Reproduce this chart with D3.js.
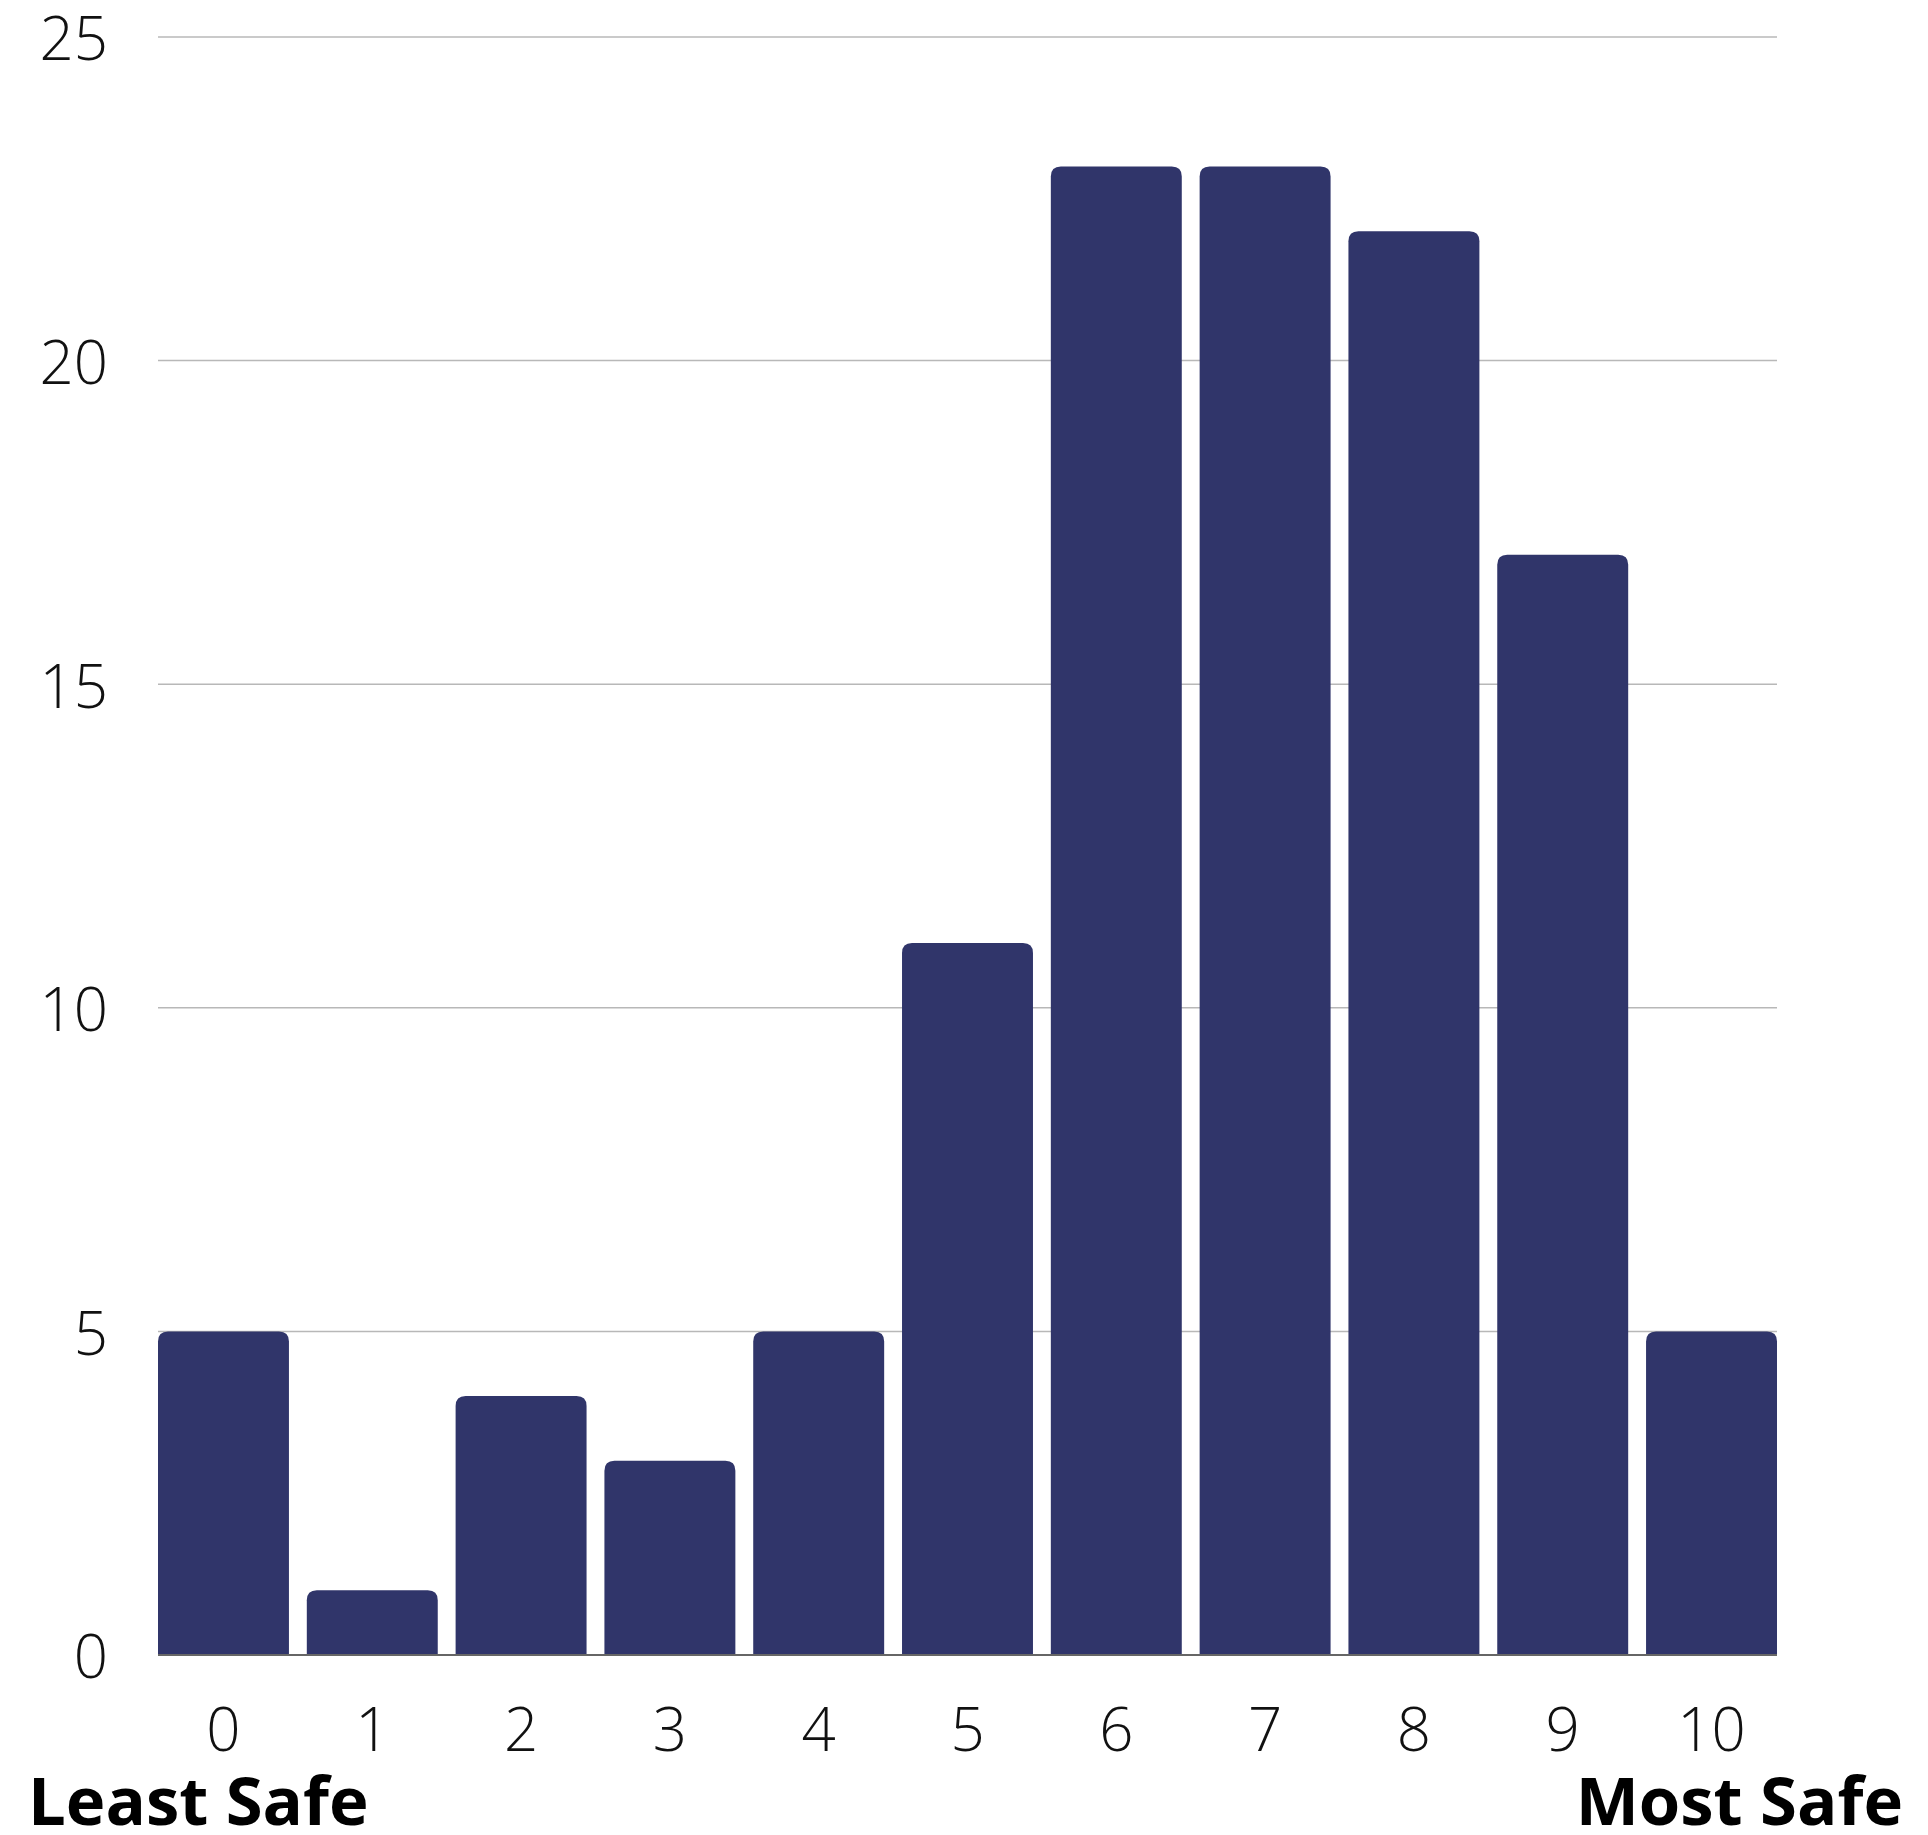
<!DOCTYPE html>
<html>
<head>
<meta charset="utf-8">
<script src="https://cdn.jsdelivr.net/npm/d3@7"></script>
<style>
  html, body { margin: 0; padding: 0; background: #fff; }
  svg { display: block; }
</style>
</head>
<body>
<div id="chart"></div>
<script>
// safety ratings 0..10, number of responses
const categories = ["0", "1", "2", "3", "4", "5", "6", "7", "8", "9", "10"]
const counts = [5, 1, 4, 3, 5, 11, 23, 23, 22, 17, 5]
const yTicks = [0, 5, 10, 15, 20, 25]
const endLabels = ["Least Safe", "Most Safe"]

const W = 1928, H = 1835
const margin = { left: 158, right: 151, top: 37, bottom: 180 }
const width = W - margin.left - margin.right
const height = H - margin.top - margin.bottom

const svg = d3.select("#chart").append("svg")
    .attr("width", W)
    .attr("height", H)

const g = svg.append("g")
    .attr("transform", "translate(" + margin.left + "," + margin.top + ")")

const x = d3.scaleBand()
    .domain(categories)
    .range([0, width])
    .paddingInner(0.12)
    .paddingOuter(0)

const y = d3.scaleLinear()
    .domain([0, 25])
    .range([height, 0])

// gridlines
g.append("g")
    .selectAll("line")
    .data(yTicks.filter(d => d > 0))
    .enter()
    .append("line")
    .attr("x1", 0)
    .attr("x2", width)
    .attr("y1", d => y(d))
    .attr("y2", d => y(d))
    .attr("stroke", "#b8b8b8")
    .attr("stroke-width", 1.5)

// y labels
const yAxisCall = d3.axisLeft(y).tickValues(yTicks).tickSize(0).tickPadding(50)
const yAxis = g.append("g").call(yAxisCall)
yAxis.select(".domain").remove()
yAxis.selectAll("text")
    .attr("font-family", "'Open Sans', sans-serif")
    .attr("font-weight", 300)
    .attr("font-size", "60px")
    .attr("fill", "#111")
    .attr("dy", "0.38em")

// bars, rounded top corners only
const r = 10
g.selectAll("path.bar")
    .data(counts)
    .enter()
    .append("path")
    .attr("class", "bar")
    .attr("fill", "#30356a")
    .attr("d", (d, i) => {
        const x0 = x(categories[i]), x1 = x0 + x.bandwidth()
        const y0 = y(d), y1 = y(0)
        return "M" + x0 + "," + y1 +
            "V" + (y0 + r) +
            "Q" + x0 + "," + y0 + " " + (x0 + r) + "," + y0 +
            "H" + (x1 - r) +
            "Q" + x1 + "," + y0 + " " + x1 + "," + (y0 + r) +
            "V" + y1 + "Z"
    })

// baseline
g.append("line")
    .attr("x1", 0)
    .attr("x2", width)
    .attr("y1", y(0))
    .attr("y2", y(0))
    .attr("stroke", "#666")
    .attr("stroke-width", 2)

// x labels
const xAxisCall = d3.axisBottom(x).tickSize(0).tickPadding(0)
const xAxis = g.append("g")
    .attr("transform", "translate(0," + height + ")")
    .call(xAxisCall)
xAxis.select(".domain").remove()
xAxis.selectAll("text")
    .attr("font-family", "'Open Sans', sans-serif")
    .attr("font-weight", 300)
    .attr("font-size", "60px")
    .attr("fill", "#111")
    .attr("dy", null)
    .attr("y", 96)

// end labels
svg.append("text")
    .attr("x", 28)
    .attr("y", 1825)
    .attr("font-family", "'Open Sans', sans-serif")
    .attr("font-weight", 700)
    .attr("font-size", "67px")
    .attr("fill", "#000")
    .text(endLabels[0])

svg.append("text")
    .attr("x", 1903)
    .attr("y", 1825)
    .attr("text-anchor", "end")
    .attr("font-family", "'Open Sans', sans-serif")
    .attr("font-weight", 700)
    .attr("font-size", "67px")
    .attr("fill", "#000")
    .text(endLabels[1])
</script>
</body>
</html>
